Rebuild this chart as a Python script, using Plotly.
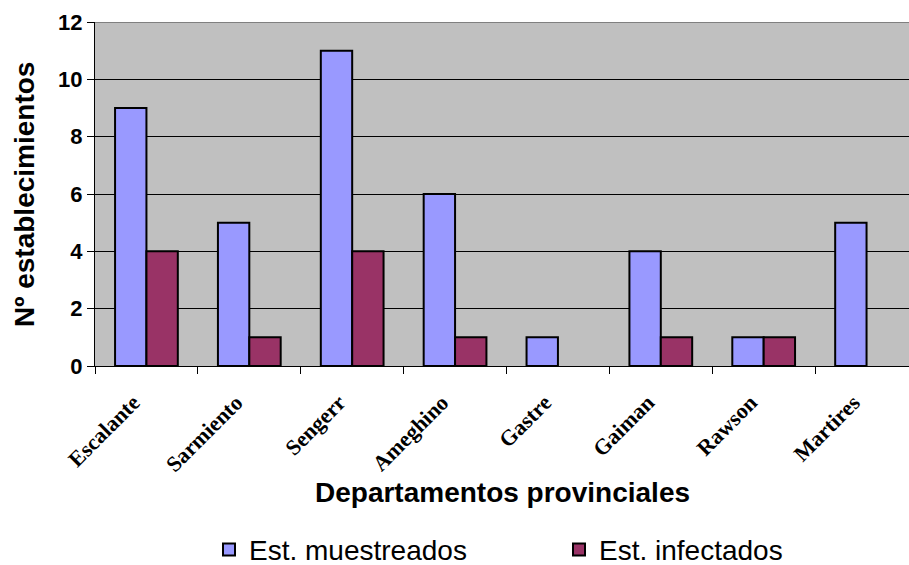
import plotly.graph_objects as go

categories = ["Escalante", "Sarmiento", "Sengerr", "Ameghino", "Gastre", "Gaiman", "Rawson", "Martires"]
muestreados = [9, 5, 11, 6, 1, 4, 1, 5]
infectados = [4, 1, 4, 1, None, 1, 1, None]
y_ticks = [0, 2, 4, 6, 8, 10, 12]

W, H = 909, 565
L, R, T, B = 95, 0, 22, 199
PW, PH = W - L - R, H - T - B


def px_x(x):
    return (x - L) / PW


def px_y(y):
    return (H - B - y) / PH


fig = go.Figure()
fig.add_trace(go.Bar(x=categories, y=muestreados, name="Est. muestreados",
                     marker=dict(color="#9999FF", line=dict(color="black", width=2))))
fig.add_trace(go.Bar(x=categories, y=infectados, name="Est. infectados",
                     marker=dict(color="#993366", line=dict(color="black", width=2))))

fig.update_layout(
    width=W, height=H,
    margin=dict(l=L, r=R, t=T, b=B),
    paper_bgcolor="white",
    plot_bgcolor="#C0C0C0",
    barmode="group",
    bargap=0.39,
    bargroupgap=0,
    showlegend=True,
    legend=dict(orientation="h", x=px_x(217), xanchor="left", xref="paper",
                y=0.027, yref="container", yanchor="middle",
                entrywidth=305, entrywidthmode="pixels",
                font=dict(family="Liberation Sans, Arial", size=28, color="black"),
                itemwidth=30, tracegroupgap=0),
    xaxis=dict(
        type="category",
        range=[-0.5, 7.5 - 9/103],
        tickangle=-45,
        tickson="boundaries",
        ticks="outside", ticklen=7, tickcolor="black", tickwidth=1,
        showline=True, linecolor="black", linewidth=1,
        showgrid=False,
        ticklabelstandoff=14,
        ticklabelshift=-13,
        tickfont=dict(family="Liberation Serif, Times New Roman", size=22, color="black", weight="bold"),
        automargin=False,
    ),
    yaxis=dict(
        range=[0, 12],
        tickvals=y_ticks,
        ticks="outside", ticklen=7, tickcolor="black", tickwidth=1,
        showline=True, linecolor="black", linewidth=1,
        showgrid=True, gridcolor="black", gridwidth=1,
        zeroline=False,
        tickfont=dict(family="Liberation Sans, Arial", size=22, color="black", weight="bold"),
        automargin=False,
    ),
    annotations=[
        dict(text="<b>Departamentos provinciales</b>", xref="paper", yref="paper",
             x=0.5, y=px_y(492), xanchor="center", yanchor="middle", showarrow=False,
             font=dict(family="Liberation Sans, Arial", size=28, color="black")),
        dict(text="<b>Nº establecimientos</b>", xref="paper", yref="paper",
             x=px_x(24), y=px_y(195), xanchor="center", yanchor="middle", showarrow=False,
             textangle=-90,
             font=dict(family="Liberation Sans, Arial", size=28, color="black")),
    ],
    shapes=[
        dict(type="line", xref="paper", yref="y", x0=0, x1=1, y0=12, y1=12,
             line=dict(color="#808080", width=2), layer="above"),
    ],
)

fig.write_html("out.html")
